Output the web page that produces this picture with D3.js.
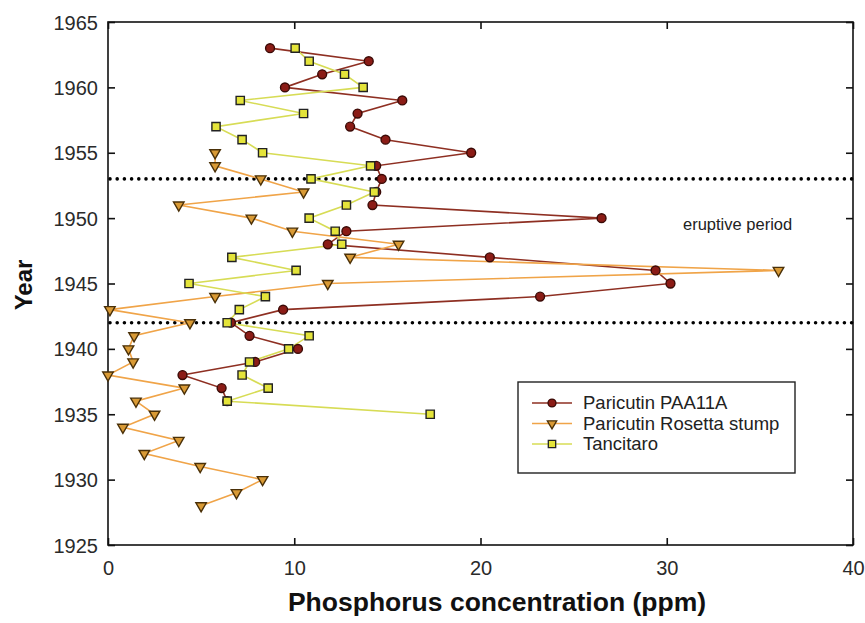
<!DOCTYPE html>
<html><head><meta charset="utf-8">
<script src="https://cdn.jsdelivr.net/npm/d3@7"></script>
<style>body{margin:0;background:#fff}svg{display:block}</style>
</head><body>
<svg id="chart" width="865" height="623"></svg>
<script>
const paaYears = [1963,1962,1961,1960,1959,1958,1957,1956,1955,1954,1953,1952,1951,1950,1949,1948,1947,1946,1945,1944,1943,1942,1941,1940,1939,1938,1937,1936];
const paaValues = [8.7,14.0,11.5,9.5,15.8,13.4,13.0,14.9,19.5,14.4,14.7,14.4,14.2,26.5,12.8,11.8,20.5,29.4,30.2,23.2,9.4,6.6,7.6,10.2,7.9,4.0,6.1,6.4];

const rosYears = [1955,1954,1953,1952,1951,1950,1949,1948,1947,1946,1945,1944,1943,1942,1941,1940,1939,1938,1937,1936,1935,1934,1933,1932,1931,1930,1929,1928];
const rosValues = [5.75,5.75,8.2,10.5,3.8,7.7,9.9,15.6,13.0,36.0,11.8,5.75,0.1,4.4,1.4,1.1,1.35,0.0,4.1,1.5,2.5,0.8,3.8,1.95,4.95,8.3,6.9,5.0];

const tanYears = [1963,1962,1961,1960,1959,1958,1957,1956,1955,1954,1953,1952,1951,1950,1949,1948,1947,1946,1945,1944,1943,1942,1941,1940,1939,1938,1937,1936,1935];
const tanValues = [10.05,10.8,12.7,13.7,7.1,10.5,5.8,7.2,8.3,14.1,10.9,14.3,12.8,10.8,12.2,12.55,6.65,10.1,4.35,8.45,7.05,6.4,10.8,9.7,7.6,7.2,8.6,6.4,17.3];

const xTicks = [0,10,20,30,40];
const yTicks = [1925,1930,1935,1940,1945,1950,1955,1960,1965];
const eruptionBounds = [1953,1942];
const seriesNames = ["Paricutin PAA11A","Paricutin Rosetta stump","Tancitaro"];

const svg = d3.select("#chart");
const L=108,R=853,T=22,B=545;
const x = d3.scaleLinear().domain([0,40]).range([L,R]);
const y = d3.scaleLinear().domain([1925,1965]).range([B,T]);
const font = "'Liberation Sans', Arial, sans-serif";

const series = [
  {name:seriesNames[0], years:paaYears, vals:paaValues, line:"#8e2f22", fill:"#8b1c16", stroke:"#3a0a06", sym:d3.symbolCircle, size:62, rot:0},
  {name:seriesNames[1], years:rosYears, vals:rosValues, line:"#f0a448", fill:"#d99a35", stroke:"#4a3008", sym:d3.symbolTriangle, size:48, rot:180},
  {name:seriesNames[2], years:tanYears, vals:tanValues, line:"#d7dc55", fill:"#e4e43a", stroke:"#222", sym:d3.symbolSquare, size:68, rot:0}
];

// frame
svg.append("rect").attr("x",L).attr("y",T).attr("width",R-L).attr("height",B-T)
  .attr("fill","none").attr("stroke","#111").attr("stroke-width",1.6);

// axes
const ax = svg.append("g").attr("font-family",font);
const gl = ax.append("g").attr("transform",`translate(${L},0)`)
  .call(d3.axisLeft(y).tickValues(yTicks).tickFormat(d3.format("d")).tickSize(-7).tickPadding(10));
const gr = ax.append("g").attr("transform",`translate(${R},0)`)
  .call(d3.axisRight(y).tickValues(yTicks).tickFormat("").tickSize(-7));
const gb = ax.append("g").attr("transform",`translate(0,${B})`)
  .call(d3.axisBottom(x).tickValues(xTicks).tickFormat(d3.format("d")).tickSize(-7).tickPadding(16));
const gt = ax.append("g").attr("transform",`translate(0,${T})`)
  .call(d3.axisTop(x).tickValues(xTicks).tickFormat("").tickSize(-7));
[gl,gr,gb,gt].forEach(g=>{
  g.select(".domain").remove();
  g.selectAll(".tick line").attr("stroke","#111").attr("stroke-width",1.6);
  g.selectAll(".tick text").attr("font-size",20).attr("fill","#2a2a2a").attr("font-family",font);
});
gl.selectAll(".tick text").attr("dy","0.35em");

// dotted eruption lines
svg.append("g").selectAll("line").data(eruptionBounds).join("line")
  .attr("x1",L+2).attr("x2",R).attr("y1",d=>y(d)).attr("y2",d=>y(d))
  .attr("stroke","#000").attr("stroke-width",3.6).attr("stroke-linecap","round")
  .attr("stroke-dasharray","0 7.2");

svg.append("text").attr("x",683).attr("y",230).attr("font-family",font)
  .attr("font-size",16.5).attr("fill","#222").text("eruptive period");

// series lines
const lineGen = d3.line().x(d=>x(d[1])).y(d=>y(d[0]));
series.forEach(s=>{
  const pts = s.years.map((yr,i)=>[yr,s.vals[i]]);
  svg.append("path").datum(pts).attr("d",lineGen).attr("fill","none")
    .attr("stroke",s.line).attr("stroke-width",1.6);
});
series.forEach(s=>{
  const pts = s.years.map((yr,i)=>[yr,s.vals[i]]);
  svg.append("g").selectAll("path").data(pts).join("path")
    .attr("d",d3.symbol().type(s.sym).size(s.size))
    .attr("transform",d=>`translate(${x(d[1])},${y(d[0])}) rotate(${s.rot})`)
    .attr("fill",s.fill).attr("stroke",s.stroke).attr("stroke-width",1.4);
});

// legend
const lg = svg.append("g");
lg.append("rect").attr("x",518).attr("y",382).attr("width",277).attr("height",91)
  .attr("fill","#fff").attr("stroke","#222").attr("stroke-width",1.4);
series.forEach((s,i)=>{
  const yy = 403 + i*20.5;
  lg.append("line").attr("x1",532).attr("x2",572).attr("y1",yy).attr("y2",yy)
    .attr("stroke",s.line).attr("stroke-width",1.6);
  lg.append("path").attr("d",d3.symbol().type(s.sym).size(s.size*0.8))
    .attr("transform",`translate(552,${yy}) rotate(${s.rot})`)
    .attr("fill",s.fill).attr("stroke",s.stroke).attr("stroke-width",1.3);
  lg.append("text").attr("x",583).attr("y",yy).attr("dy","0.35em")
    .attr("font-family",font).attr("font-size",18.5).attr("fill","#222").text(s.name);
});

// axis titles
svg.append("text").attr("x",497).attr("y",611).attr("text-anchor","middle")
  .attr("font-family",font).attr("font-weight","bold").attr("font-size",26.5).attr("fill","#111")
  .text("Phosphorus concentration (ppm)");
svg.append("text").attr("transform","translate(32,285) rotate(-90)").attr("text-anchor","middle")
  .attr("font-family",font).attr("font-weight","bold").attr("font-size",24).attr("fill","#111")
  .text("Year");
</script>
</body></html>
